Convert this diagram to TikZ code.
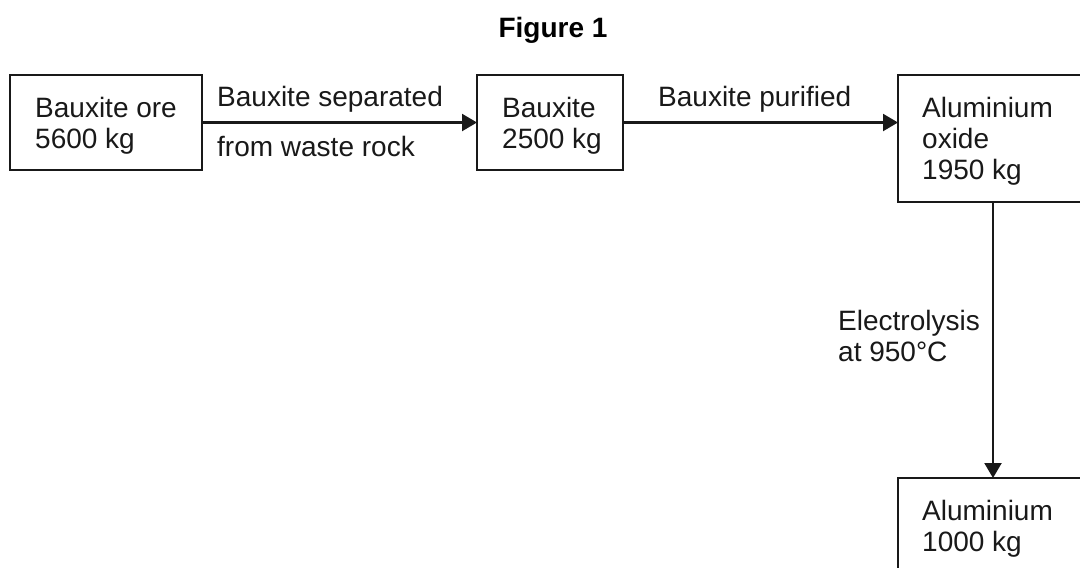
\documentclass[tikz,border=0pt]{standalone}
\usepackage{fontspec}
\setmainfont{Liberation Sans}
\usetikzlibrary{arrows.meta}
\tikzset{
  box/.style={draw=black!90, line width=2.2pt, inner sep=0pt, outer sep=0pt, anchor=north west},
  txt/.style={font=\fontsize{28}{31}\selectfont, align=left, inner sep=0pt, anchor=north west, text=black!90},
  lbl/.style={font=\fontsize{28}{31}\selectfont, inner sep=0pt, anchor=base west, text=black!90},
  arr/.style={draw=black!90, line width=2.2pt, -{Triangle[length=15pt,width=17pt]}}
}
\begin{document}
\begin{tikzpicture}[x=1pt,y=-1pt]
\useasboundingbox (0,0) rectangle (1080,568);
\fill[white] (0,0) rectangle (1080,568);
\node[font=\fontsize{28}{31}\selectfont\bfseries, anchor=base, inner sep=0pt] (title) at (553,37) {Figure 1};
% boxes
\node[box, minimum width=192pt, minimum height=95pt] (b1) at (10,75) {};
\node[box, minimum width=146pt, minimum height=95pt] (b2) at (477,75) {};
\node[box, minimum width=190pt, minimum height=127pt] (b3) at (898,75) {};
\node[box, minimum width=190pt, minimum height=97pt] (b4) at (898,478) {};
% box texts
\node[txt] (t1) at ([xshift=25pt,yshift=-22pt]b1.north west) {Bauxite ore\\5600 kg};
\node[txt] (t2) at ([xshift=25pt,yshift=-22pt]b2.north west) {Bauxite\\2500 kg};
\node[txt] (t3) at ([xshift=24pt,yshift=-22pt]b3.north west) {Aluminium\\oxide\\1950 kg};
\node[txt] (t4) at ([xshift=24pt,yshift=-22pt]b4.north west) {Aluminium\\1000 kg};
% connectors
\draw[arr] (b1.east) -- (b2.west);
\draw[arr] (b2.east) -- (b2.east -| b3.west);
\draw[arr] (b3.south) -- (b4.north);
% connector labels
\node[lbl] (l1) at ([xshift=15pt,yshift=16pt]b1.east) {Bauxite separated};
\node[lbl] (l2) at ([xshift=15pt,yshift=-34pt]b1.east) {from waste rock};
\node[lbl] (l3) at ([xshift=35pt,yshift=16pt]b2.east) {Bauxite purified};
\node[txt] (l4) at (838,310) {Electrolysis\\at 950°C};
\end{tikzpicture}
\end{document}
